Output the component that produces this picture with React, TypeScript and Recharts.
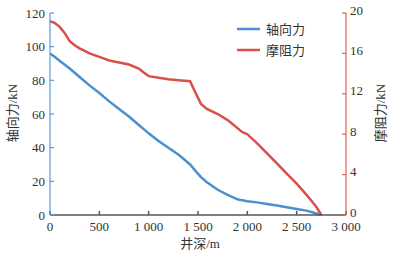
import { LineChart, Line, XAxis, YAxis, Legend } from "recharts";

const depths = [
  0, 50, 100, 150, 200, 250, 300, 400, 500, 600, 700, 800, 900, 950, 1000, 1100, 1200, 1300,
  1420, 1470, 1530, 1590, 1700, 1800, 1900, 1950, 2000, 2100, 2200, 2300, 2400, 2500, 2600, 2700, 2750,
];

// 轴向力, kN (left axis)
const axialForce = [
  96, 93.8, 91.5, 89.2, 87, 84.5, 82, 77, 72.5, 67.5, 63, 58.5, 53.5, 51, 48.5, 44, 40, 36,
  30, 26.5, 22.5, 19.5, 15, 12, 9.3, 8.7, 8.2, 7.5, 6.6, 5.6, 4.6, 3.6, 2.6, 0.9, 0,
];

// 摩阻力, kN (right axis)
const frictionForce = [
  19.2, 19.0, 18.6, 18.0, 17.2, 16.8, 16.5, 16.0, 15.65, 15.3, 15.1, 14.9, 14.5, 14.1, 13.75, 13.6, 13.45, 13.35,
  13.25, 12.2, 11.0, 10.5, 10.0, 9.4, 8.6, 8.2, 8.0, 7.1, 6.1, 5.1, 4.1, 3.1, 2.0, 0.8, 0,
];

const xTicks = [0, 500, 1000, 1500, 2000, 2500, 3000];
const leftTicks = [0, 20, 40, 60, 80, 100, 120];
const rightTicks = [0, 4, 8, 12, 16, 20];

const BLUE = "#4a8fcf";
const RED = "#d9504a";
const FONT = "'Liberation Serif', 'Noto Sans CJK SC', serif";
const TEXT = "#333";

const data = depths.map((d, i) => ({ depth: d, axial: axialForce[i], friction: frictionForce[i] }));

const fmtX = (v: number) => (v >= 1000 ? `${Math.floor(v / 1000)} ${String(v % 1000).padStart(3, "0")}` : `${v}`);

// fixed-position axis title; uses its own prop names so Recharts' injected x/y don't move it
function RotLabel({ px, py, text }: { px: number; py: number; text: string }) {
  return (
    <text x={px} y={py} transform={`rotate(-90 ${px} ${py})`} textAnchor="middle" dominantBaseline="central"
      fill={TEXT} fontSize={13} fontFamily={FONT}>
      {text}
    </text>
  );
}

function XLabel() {
  return (
    <text x={200} y={243} textAnchor="middle" dominantBaseline="central" fill={TEXT} fontSize={13} fontFamily={FONT}>
      井深/m
    </text>
  );
}

function LegendBox() {
  const items = [
    { name: "轴向力", color: BLUE },
    { name: "摩阻力", color: RED },
  ];
  return (
    <div style={{ fontFamily: FONT, fontSize: 13, color: TEXT }}>
      {items.map(it => (
        <div key={it.name} style={{ display: "flex", alignItems: "center", height: 21 }}>
          <svg width={29} height={10}>
            <line x1={0} y1={5} x2={23} y2={5} stroke={it.color} strokeWidth={2.5} />
          </svg>
          <span>{it.name}</span>
        </div>
      ))}
    </div>
  );
}

export default function App() {
  return (
    <div style={{ position: "absolute", left: 0, top: 0, width: 393, height: 255, background: "#fff" }}>
      <LineChart width={393} height={255} data={data} margin={{ top: 13, right: 0, bottom: 0, left: 0 }}>
        <XAxis
          dataKey="depth"
          type="number"
          domain={[0, 3000]}
          ticks={xTicks}
          tickFormatter={fmtX}
          height={40}
          stroke="#555"
          strokeWidth={1.5}
          tickSize={-4}
          tickMargin={11}
          tick={{ fill: TEXT, fontSize: 13, fontFamily: FONT }}
          label={<XLabel />}
        />
        <YAxis
          yAxisId="left"
          domain={[0, 120]}
          ticks={leftTicks}
          width={50}
          stroke="#5b9bd5"
          strokeWidth={1.2}
          tickSize={-4}
          tickMargin={9}
          tick={{ fill: TEXT, fontSize: 13, fontFamily: FONT }}
          label={<RotLabel px={12} py={113} text="轴向力/kN" />}
        />
        <YAxis
          yAxisId="right"
          orientation="right"
          domain={[0, 20]}
          ticks={rightTicks}
          width={47}
          stroke="#e0605a"
          strokeWidth={1.2}
          tickSize={-4}
          tickMargin={8}
          tick={{ fill: TEXT, fontSize: 13, fontFamily: FONT, dy: -3 }}
          label={<RotLabel px={380} py={113} text="摩阻力/kN" />}
        />
        <Legend
          layout="vertical"
          align="center"
          verticalAlign="middle"
          content={<LegendBox />}
          wrapperStyle={{ left: 237, top: 18, width: 90 }}
        />
        <Line yAxisId="left" type="linear" dataKey="axial" name="轴向力" stroke={BLUE} strokeWidth={2.5}
          dot={false} isAnimationActive={false} />
        <Line yAxisId="right" type="linear" dataKey="friction" name="摩阻力" stroke={RED} strokeWidth={2.5}
          dot={false} isAnimationActive={false} />
      </LineChart>
    </div>
  );
}
